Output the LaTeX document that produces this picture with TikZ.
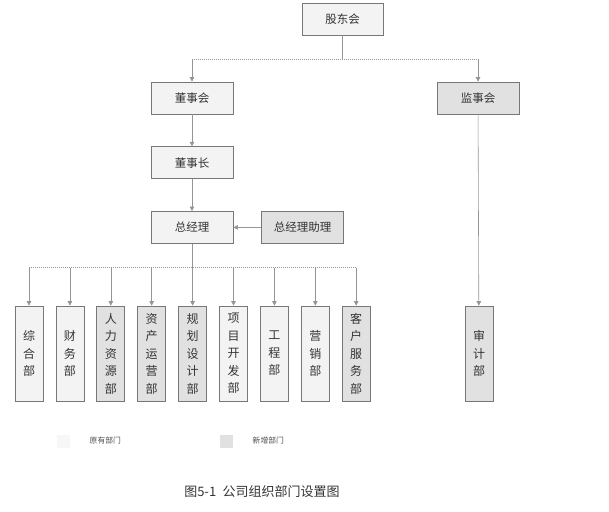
\documentclass[tikz,border=0pt]{standalone}
\usepackage{fontspec}
\setmainfont{Noto Sans CJK SC}
\usetikzlibrary{positioning,arrows.meta,calc}
\definecolor{oldfill}{HTML}{F3F3F3}
\definecolor{newfill}{HTML}{E1E1E1}
\definecolor{edge}{HTML}{777777}
\definecolor{wire}{HTML}{959595}

\begin{document}
\begin{tikzpicture}[
  x=1pt, y=1pt, >={Triangle[length=4.5pt,width=4.5pt]},
  box/.style={draw=edge, line width=0.7pt, fill=oldfill, minimum width=82pt, minimum height=32pt,
    inner sep=0pt, font=\fontsize{11.5}{13}\selectfont, text=black!80},
  newbox/.style={box, fill=newfill},
  dept/.style={box, minimum width=28pt, minimum height=95pt, align=center,
    font=\fontsize{12}{17.5}\selectfont},
  newdept/.style={dept, fill=newfill},
  wireline/.style={draw=wire, line width=0.6pt},
  hbar/.style={wireline, dash pattern=on 1.2pt off 0.8pt},
  arr/.style={wireline, ->, wire},
  keysq/.style={minimum size=13pt, inner sep=0pt},
  keytext/.style={font=\fontsize{7.8}{9}\selectfont, text=black!70},
]
  \useasboundingbox (0,0) rectangle (609,-511);

  % top of the chart
  \node[box, minimum width=81pt] (gd) at (342.5,-19) {股东会};
  \node[box] (dsh) at (192,-98) {董事会};
  \node[newbox] (jsh) at (478,-98) {监事会};
  \node[box, below=32pt of dsh] (dsz) {董事长};
  \node[box, below=32pt of dsz] (zjl) {总经理};
  \node[newbox, right=28pt of zjl] (zl) {总经理助理};

  \coordinate (top) at ($(gd.south)+(0,-24)$);
  \draw[wireline] (gd) -- (top);
  \draw[hbar] (dsh |- top) -- (jsh |- top);
  \draw[arr] (dsh |- top) -- (dsh);
  \draw[arr] (jsh |- top) -- (jsh);
  \draw[arr] (dsh) -- (dsz);
  \draw[arr] (dsz) -- (zjl);
  \draw[arr] (zl) -- (zjl);

  % departments
  \node[dept] (d1) at (29,-353.5) {综\\合\\部};
  \node[dept, right=12.2pt of d1] (d2) {财\\务\\部};
  \node[newdept, right=12.2pt of d2] (d3) {人\\力\\资\\源\\部};
  \node[newdept, right=12.2pt of d3] (d4) {资\\产\\运\\营\\部};
  \node[newdept, right=12.2pt of d4] (d5) {规\\划\\设\\计\\部};
  \node[dept, right=12.2pt of d5] (d6) {项\\目\\开\\发\\部};
  \node[dept, right=12.2pt of d6] (d7) {工\\程\\部};
  \node[dept, right=12.2pt of d7] (d8) {营\\销\\部};
  \node[newdept, right=12.2pt of d8] (d9) {客\\户\\服\\务\\部};
  \node[newdept] (sj) at (479,-353.5) {审\\计\\部};

  \coordinate (bar) at ($(zjl.south)+(0,-24)$);
  \draw[wireline] (zjl) -- (bar);
  \draw[hbar] (d1 |- bar) -- (d9 |- bar);
  \foreach \d in {d1,d2,d3,d4,d5,d6,d7,d8,d9}
    \draw[arr] (\d |- bar) -- (\d);
  \draw[arr] (jsh) -- (sj);

  % key and caption
  \node[keysq, fill=oldfill!70] (k1) at (63.5,-441) {};
  \node[keytext, right=16pt of k1] (t1) {原有部门};
  \node[keysq, fill=newfill] (k2) at (226.5,-441) {};
  \node[keytext, right=16pt of k2] (t2) {新增部门};
  \node[font=\fontsize{13}{15}\selectfont, text=black!80] (cap) at (262,-492) {图5-1\hspace{0.5em}公司组织部门设置图};
\end{tikzpicture}
\end{document}
